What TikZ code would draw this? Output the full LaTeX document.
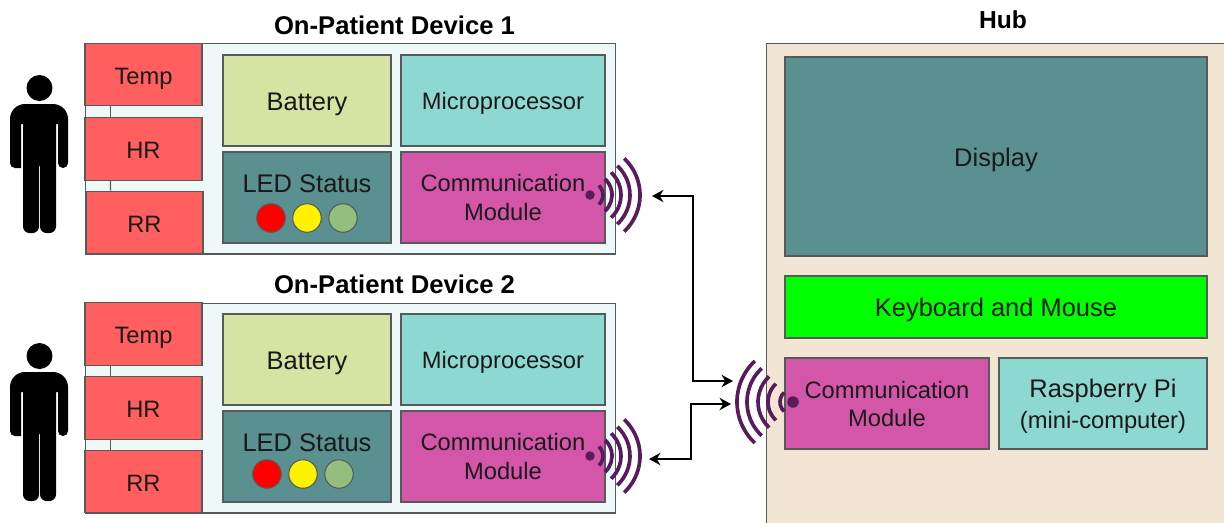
\documentclass[tikz,border=0pt]{standalone}
\usepackage{fontspec}
\usepackage{xcolor}
\usepackage{tikz}
\usetikzlibrary{positioning, arrows.meta}
\setmainfont{Liberation Sans}
\definecolor{panelblue}{RGB}{239, 248, 248}
\definecolor{panelsand}{RGB}{243, 229, 211}
\definecolor{sensorred}{RGB}{255, 95, 95}
\definecolor{battgreen}{RGB}{214, 227, 162}
\definecolor{microcyan}{RGB}{142, 216, 210}
\definecolor{tealbox}{RGB}{90, 144, 144}
\definecolor{commpink}{RGB}{212, 86, 168}
\definecolor{wavepurple}{RGB}{88, 28, 92}
\definecolor{ledgreen}{RGB}{148, 190, 126}
\definecolor{edgegray}{RGB}{85, 90, 90}

\newcommand{\signal}[3]{\draw[wave] ([shift={(#2-47:#3)}]#1.center) arc[start angle=#2-47, delta angle=94, radius=#3];}
\newcommand{\personfig}[1]{%
  \fill[black, shift={(0,#1)}] (39.5,88) circle (0.26cm);
  \fill[black, shift={(0,#1)}, rounded corners=0.1cm] (21,168) -- (10,168) [rounded corners=0.3cm] -- (10,104) -- (68,104) [rounded corners=0.1cm] -- (68,168) -- (58,168) [sharp corners] -- (58,124) -- (56,124) [rounded corners=0.13cm] -- (56,233) -- (40,233) [sharp corners] -- (40,166) -- (39,166) [rounded corners=0.13cm] -- (39,233) -- (23,233) [sharp corners] -- (23,124) -- (21,124) -- cycle;
}

\begin{document}
\begin{tikzpicture}[x=0.02cm, y=-0.02cm]
\tikzstyle{panel} = [rectangle, draw=edgegray, line width=0.6pt, inner sep=0pt]
\tikzstyle{box} = [rectangle, draw=edgegray, line width=0.8pt, inner sep=0pt, align=center, text=black!90, font=\fontsize{14.5}{16}\selectfont]
\tikzstyle{smallbox} = [box, font=\fontsize{13.5}{16}\selectfont]
\tikzstyle{oneline} = [text height=11.7pt, text depth=0pt]
\tikzstyle{smallline} = [text height=10.9pt, text depth=0pt]
\tikzstyle{sensor} = [smallbox, smallline, fill=sensorred, minimum width=2.34cm, minimum height=1.25cm]
\tikzstyle{battery} = [box, oneline, fill=battgreen, minimum width=3.36cm, minimum height=1.82cm]
\tikzstyle{micro} = [smallbox, text height=10pt, text depth=0pt, fill=microcyan, minimum width=4.08cm, minimum height=1.82cm]
\tikzstyle{ledbox} = [box, fill=tealbox, minimum width=3.36cm, minimum height=1.82cm]
\tikzstyle{comm} = [smallbox, fill=commpink, minimum width=4.08cm, minimum height=1.82cm]
\tikzstyle{led} = [circle, draw=edgegray, line width=0.6pt, minimum size=0.57cm, inner sep=0pt]
\tikzstyle{title} = [font=\bfseries\fontsize{14.6}{18}\selectfont, inner sep=0pt]
\tikzstyle{wave} = [wavepurple, line width=2.1pt]
\tikzstyle{wavedot} = [circle, fill=wavepurple, minimum size=0.19cm, inner sep=0pt]
\tikzstyle{arrow} = [line width=1.5pt, {Stealth[length=6.5pt,width=7pt]}-{Stealth[length=6.5pt,width=7pt]}]
\tikzstyle{sensorlink} = [edgegray, line width=0.8pt]

\useasboundingbox (0,0) rectangle (1224,522);
\clip (0,0) rectangle (1224,522);

% Device 1
\node[title] (titleone) at (394.5,25) {On-Patient Device 1};
\node[panel, fill=panelblue, minimum width=10.62cm, minimum height=4.22cm] (panelone) at (350.5,148.5) {};
\node[sensor] (tempone) at (143.5,74.5) {Temp};
\node[sensor] (hrone) at (143.5,149) {HR};
\node[sensor] (rrone) at (144.5,222.5) {RR};
\draw[sensorlink] ([xshift=-0.66cm]tempone.south) -- ([xshift=-0.66cm]hrone.north);
\draw[sensorlink] ([xshift=-0.66cm]hrone.south) -- ([xshift=-0.68cm]rrone.north);
\node[battery] (battone) at (307,100.5) {Battery};
\node[micro] (microone) at (503,100.5) {Microprocessor};
\node[ledbox] (ledboxone) at (307,197.5) {};
\node[box, fill=none, draw=none] (ledtextone) at (307,184) {LED Status};
\node[led, fill=red] (redone) at (271,218) {};
\node[led, fill=yellow] (yellowone) at (307,218) {};
\node[led, fill=ledgreen] (greenone) at (343,218) {};
\node[comm] (commone) at (503,197.5) {Communication\\Module};

% Device 2
\node[title] (titletwo) at (394.5,284) {On-Patient Device 2};
\node[panel, fill=panelblue, minimum width=10.62cm, minimum height=4.2cm] (paneltwo) at (350.5,408) {};
\node[sensor] (temptwo) at (143.5,334) {Temp};
\node[sensor] (hrtwo) at (143.5,408) {HR};
\node[sensor] (rrtwo) at (143.5,481.5) {RR};
\draw[sensorlink] ([xshift=-0.66cm]temptwo.south) -- ([xshift=-0.66cm]hrtwo.north);
\draw[sensorlink] ([xshift=-0.66cm]hrtwo.south) -- ([xshift=-0.66cm]rrtwo.north);
\node[battery] (batttwo) at (307,359.5) {Battery};
\node[micro] (microtwo) at (503,359.5) {Microprocessor};
\node[ledbox] (ledboxtwo) at (307,456.5) {};
\node[box, fill=none, draw=none] (ledtexttwo) at (307,443) {LED Status};
\node[led, fill=red] (redtwo) at (267,474) {};
\node[led, fill=yellow] (yellowtwo) at (303,474) {};
\node[led, fill=ledgreen] (greentwo) at (339,474) {};
\node[comm] (commtwo) at (503,456.5) {Communication\\Module};

% Hub
\node[title, font=\bfseries\fontsize{14}{18}\selectfont] (titlehub) at (1003,20) {Hub};
\node[panel, fill=panelsand, minimum width=9.4cm, minimum height=9.8cm] (panelhub) at (1001,288) {};
\node[box, oneline, fill=tealbox, minimum width=8.44cm, minimum height=3.98cm] (display) at (996,156.5) {Display};
\node[box, text height=10.5pt, text depth=0pt, fill=green, minimum width=8.44cm, minimum height=1.24cm] (keyboard) at (996,307) {Keyboard and Mouse};
\node[comm, text depth=-2.2pt] (commhub) at (887,403.5) {Communication\\Module};
\node[box, fill=microcyan, text depth=0pt, minimum width=4.16cm, minimum height=1.82cm] (raspberry) at (1103,403.5) {Raspberry Pi\\[1.5pt]{\fontsize{13.5}{16}\selectfont (mini-computer)}};

% People
\personfig{0}
\personfig{268}

% Signals
\node[wavedot] (dotone) at (590,195) {};
\signal{dotone}{0}{0.26cm}
\signal{dotone}{0}{0.44cm}
\signal{dotone}{0}{0.62cm}
\signal{dotone}{0}{0.8cm}
\signal{dotone}{0}{1cm}
\node[wavedot] (dottwo) at (590,456) {};
\signal{dottwo}{0}{0.26cm}
\signal{dottwo}{0}{0.44cm}
\signal{dottwo}{0}{0.62cm}
\signal{dottwo}{0}{0.8cm}
\signal{dottwo}{0}{1cm}
\node[wavedot, minimum size=0.23cm] (dothub) at (793,402) {};
\signal{dothub}{180}{0.26cm}
\signal{dothub}{180}{0.5cm}
\signal{dothub}{180}{0.7cm}
\signal{dothub}{180}{0.92cm}
\signal{dothub}{180}{1.12cm}

% Arrows
\coordinate (waveone) at (652,196);
\coordinate (wavetwo) at (649,459);
\coordinate (elbowone) at (693,381);
\coordinate (elbowtwo) at (691,404);
\coordinate (hubone) at (733,381);
\coordinate (hubtwo) at (731,404);
\draw[arrow] (waveone) -| (elbowone) -- (hubone);
\draw[arrow] (wavetwo) -| (elbowtwo) -- (hubtwo);
\end{tikzpicture}
\end{document}
